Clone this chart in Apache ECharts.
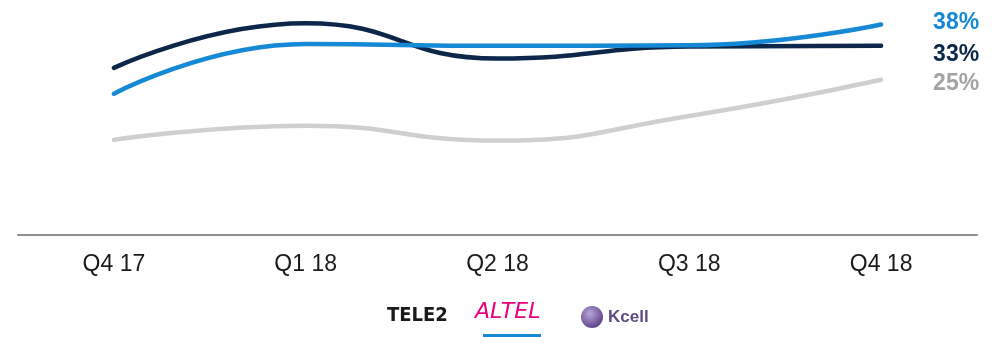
<!DOCTYPE html>
<html>
<head>
<meta charset="utf-8">
<title>Subscriber share by quarter</title>
<script src="https://cdn.jsdelivr.net/npm/echarts@6/dist/echarts.min.js"></script>
<style>
  html, body { margin: 0; padding: 0; background: #ffffff; }
  #chart { width: 1004px; height: 337px; }
</style>
</head>
<body>
<div id="chart"></div>
<script>
// Quarter labels on the category axis
const quarters = ['Q4 17', 'Q1 18', 'Q2 18', 'Q3 18', 'Q4 18'];

// Share per operator, percent
const tele2 = [27.8, 38.3, 30.0, 32.8, 33];
const altel = [21.7, 33.4, 33.0, 33.1, 38];
const kcell = [10.9, 14.2, 10.7, 16.5, 25];

const NAVY = '#0c2749';
const BLUE = '#1589d5';
const GREY_LINE = '#cfcfcf';
const GREY_TEXT = '#a3a3a3';

function lineSeries(name, values, color, labelColor, dy) {
  return {
    name: name,
    type: 'line',
    data: values,
    smooth: true,
    symbol: 'none',
    lineStyle: { width: 4.5, color: color, cap: 'round' },
    itemStyle: { color: color },
    endLabel: {
      show: true,
      formatter: function (p) { return p.value + '%'; },
      distance: 52,
      offset: [0, dy],
      color: labelColor,
      fontSize: 23,
      fontWeight: 'bold',
      fontFamily: '"Liberation Sans", Arial, sans-serif'
    },
    emphasis: { disabled: true }
  };
}

const chart = echarts.init(document.getElementById('chart'), null, { renderer: 'canvas' });

chart.setOption({
  animation: false,
  backgroundColor: '#ffffff',
  grid: { left: 18, top: 16, width: 959, height: 219 },
  xAxis: {
    type: 'category',
    data: quarters,
    boundaryGap: true,
    axisLine: { onZero: false, lineStyle: { color: '#8f8f8f', width: 2 } },
    axisTick: { show: false },
    axisLabel: {
      margin: 18,
      fontSize: 23,
      color: '#1a1a1a',
      fontFamily: '"Liberation Sans", Arial, sans-serif'
    },
    splitLine: { show: false }
  },
  yAxis: {
    type: 'value',
    min: -11.5,
    max: 40,
    show: false,
    splitLine: { show: false }
  },
  legend: [
    {
      data: [{ name: 'TELE2', icon: 'none' }],
      left: 382, top: 304, padding: 0,
      itemWidth: 0, itemHeight: 24, selectedMode: false,
      textStyle: {
        fontSize: 20, fontWeight: 'bold', color: '#1a1a1a',
        fontFamily: '"DejaVu Sans Condensed", "DejaVu Sans", sans-serif'
      }
    },
    {
      data: [{ name: 'ALTEL', icon: 'none' }],
      left: 470, top: 300, padding: 0,
      itemWidth: 0, itemHeight: 24, selectedMode: false,
      textStyle: {
        fontSize: 22, fontStyle: 'italic', color: '#e5007d',
        fontFamily: '"DejaVu Sans", sans-serif'
      }
    },
    {
      data: [{
        name: 'Kcell', icon: 'circle',
        itemStyle: {
          color: {
            type: 'radial', x: 0.4, y: 0.35, r: 0.7,
            colorStops: [
              { offset: 0, color: '#b9a6d8' },
              { offset: 1, color: '#5a3d88' }
            ]
          },
          borderWidth: 0
        }
      }],
      left: 581, top: 306, padding: 0,
      itemWidth: 22, itemHeight: 22, itemGap: 0, selectedMode: false,
      textStyle: {
        fontSize: 17, fontWeight: 'bold', color: '#5d4c86',
        fontFamily: '"Liberation Sans", Arial, sans-serif'
      }
    }
  ],
  graphic: [
    {
      type: 'rect',
      left: 483, top: 334,
      shape: { width: 58, height: 3 },
      style: { fill: BLUE },
      silent: true
    }
  ],
  series: [
    lineSeries('Kcell', kcell, GREY_LINE, GREY_TEXT, 3.5),
    lineSeries('TELE2', tele2, NAVY, NAVY, 8.5),
    lineSeries('ALTEL', altel, BLUE, BLUE, -1.5)
  ]
});
</script>
</body>
</html>
